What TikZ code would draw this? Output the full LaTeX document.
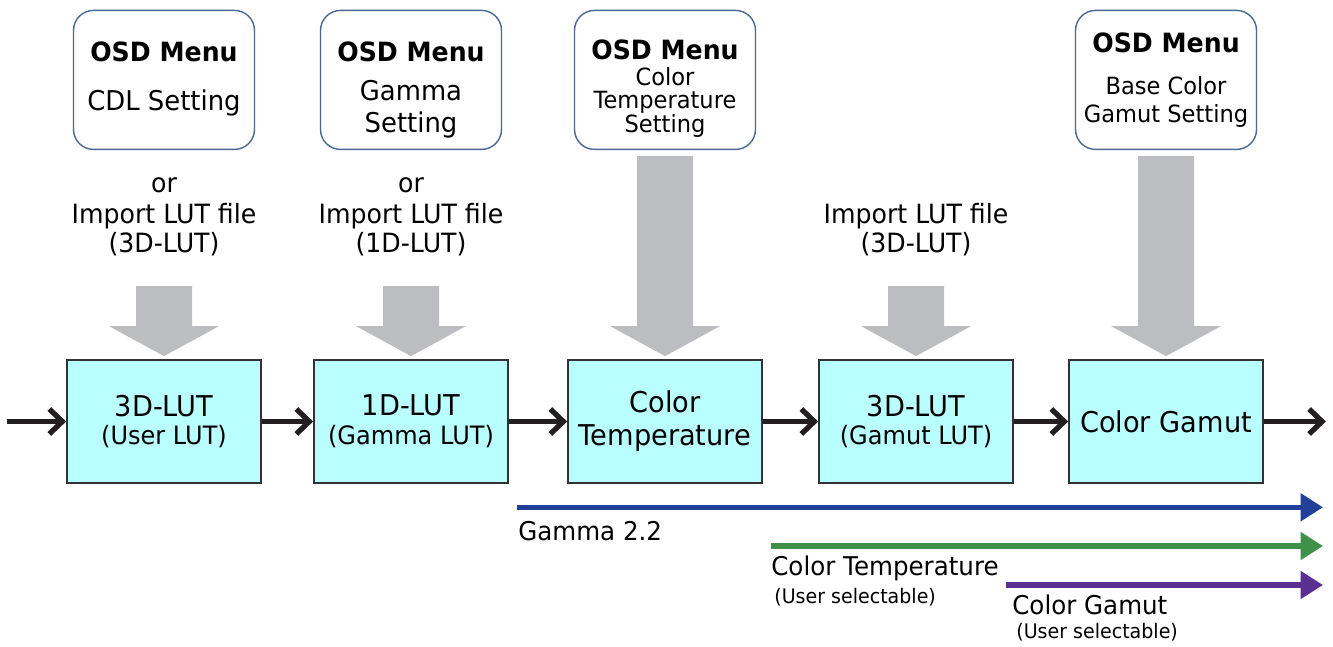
\documentclass[tikz,border=0pt]{standalone}
\usepackage{fontspec}
\setmainfont[FakeStretch=0.95]{DejaVu Sans}
\usetikzlibrary{arrows.meta, positioning, calc}

\definecolor{lutcyan}{RGB}{185,255,255}
\definecolor{lutedge}{RGB}{50,50,50}
\definecolor{menuedge}{RGB}{74,104,150}
\definecolor{feedgray}{RGB}{188,189,193}
\definecolor{flowblack}{RGB}{35,31,32}
\definecolor{gammablue}{RGB}{33,64,154}
\definecolor{tempgreen}{RGB}{64,145,72}
\definecolor{gamutpurple}{RGB}{91,46,145}

\newcommand{\osdtitle}{\bfseries\fontsize{15.1}{20}\selectfont}
\newcommand{\menubig}{\fontsize{15.5}{20}\selectfont}
\newcommand{\menusmall}{\fontsize{13.5}{20}\selectfont}
\newcommand{\lutsub}{\fontsize{14.4}{20}\selectfont}

\begin{document}
\begin{tikzpicture}[
    font=\fontsize{15.1}{20}\selectfont,
    menubox/.style={draw=menuedge, line width=0.8pt, rounded corners=0.4cm, fill=white, minimum width=3.62cm, minimum height=2.78cm},
    menutext/.style={align=center, inner sep=0pt, anchor=north},
    lutbox/.style={draw=lutedge, line width=1pt, fill=lutcyan, minimum width=3.88cm, minimum height=2.46cm, inner sep=0pt, align=center, font=\fontsize{16.3}{20}\selectfont},
    importtext/.style={align=center, inner sep=0pt},
    flowarrow/.style={-{Straight Barb[length=0.26cm, width=0.5cm]}, line width=3pt, color=flowblack},
    rangearrow/.style={-{Triangle[length=0.45cm, width=0.54cm]}, line width=3pt},
    rangelabel/.style={anchor=base west, inner sep=0pt, font=\fontsize{14.7}{20}\selectfont},
    selectlabel/.style={anchor=base west, inner sep=0pt, font=\fontsize{11.4}{14}\selectfont}
]
\useasboundingbox (0,0) rectangle (26.66,12.92);

% === PROCESSING CHAIN ===
\node[lutbox] (lut1) at (3.28,4.49) {3D-LUT\\[-3.6pt]\lutsub (User LUT)};
\node[lutbox, right=1.025cm of lut1] (lut2) {1D-LUT\\[-3.6pt]\lutsub (Gamma LUT)};
\node[lutbox, right=1.165cm of lut2] (lut3) {Color\\[-1.3pt]Temperature};
\node[lutbox, right=1.105cm of lut3] (lut4) {3D-LUT\\[-3.6pt]\lutsub (Gamut LUT)};
\node[lutbox, right=1.085cm of lut4] (lut5) {Color Gamut};

\coordinate (src) at ([xshift=-1.18cm]lut1.west);
\coordinate (sink) at ([xshift=1.24cm]lut5.east);
\draw[flowarrow] (src) -- (lut1);
\foreach \a/\b in {lut1/lut2, lut2/lut3, lut3/lut4, lut4/lut5} {
    \draw[flowarrow] (\a) -- (\b);
}
\draw[flowarrow] (lut5) -- (sink);

% === OSD MENUS ===
\node[menubox, above=4.18cm of lut1] (menu1) {};
\node[menubox, above=4.18cm of lut2] (menu2) {};
\node[menubox, above=4.18cm of lut3] (menu3) {};
\node[menubox, above=4.18cm of lut5] (menu4) {};

\node[menutext] (menu1txt) at ([yshift=-0.63cm]menu1.north) {\osdtitle OSD Menu\\[8.3pt]\menubig CDL Setting};
\node[menutext] (menu2txt) at ([yshift=-0.63cm]menu2.north) {\osdtitle OSD Menu\\[2.1pt]\menubig Gamma\\[-1.3pt]\menubig Setting};
\node[menutext] (menu3txt) at ([yshift=-0.60cm]menu3.north) {\osdtitle OSD Menu\\[-5.3pt]\menusmall Color\\[-7pt]\menusmall Temperature\\[-6.4pt]\menusmall Setting};
\node[menutext] (menu4txt) at ([yshift=-0.46cm]menu4.north) {\osdtitle OSD Menu\\[3.8pt]\menusmall Base Color\\[-4.1pt]\menusmall Gamut Setting};

% === FEED ARROWS ===
\coordinate (g1) at ([yshift=1.46cm]lut1.north);
\coordinate (g2) at ([yshift=1.46cm]lut2.north);
\coordinate (g3) at ([yshift=-0.12cm]menu3.south);
\coordinate (g4) at ([yshift=1.46cm]lut4.north);
\coordinate (g5) at ([yshift=-0.12cm]menu4.south);

\node[importtext, above=0.6cm of g1] (imp1) {or\\[-2.4pt]Import LUT file\\[-3.6pt](3D-LUT)};
\node[importtext, above=0.6cm of g2] (imp2) {or\\[-2.4pt]Import LUT file\\[-3.6pt](1D-LUT)};
\node[importtext, above=0.6cm of g4] (imp4) {Import LUT file\\[-3.6pt](3D-LUT)};

\foreach \s/\e in {g1/lut1, g2/lut2, g3/lut3, g4/lut4, g5/lut5} {
    \coordinate (tip) at ([yshift=0.06cm]\e.north);
    \fill[feedgray] ($(\s)+(-0.56,0)$) -- ($(\s)+(0.56,0)$) -- ($(tip)+(0.56,0.6)$) -- ($(tip)+(1.1,0.6)$)
        -- (tip) -- ($(tip)+(-1.1,0.6)$) -- ($(tip)+(-0.56,0.6)$) -- cycle;
}

% === RANGES ===
\coordinate (gammaS) at (10.34,2.774);
\coordinate (gammaE) at (26.46,2.774);
\coordinate (tempS) at (15.42,2.0);
\coordinate (tempE) at (26.46,2.0);
\coordinate (gamutS) at (20.12,1.22);
\coordinate (gamutE) at (26.46,1.22);
\draw[rangearrow, gammablue] (gammaS) -- (gammaE);
\draw[rangearrow, tempgreen] (tempS) -- (tempE);
\draw[rangearrow, gamutpurple] (gamutS) -- (gamutE);

\node[rangelabel] (gammalbl) at (10.36,2.12) {Gamma 2.2};
\node[rangelabel] (templbl) at (15.42,1.42) {Color Temperature};
\node[selectlabel] (tempsel) at (15.48,0.86) {(User selectable)};
\node[rangelabel] (gamutlbl) at (20.24,0.64) {Color Gamut};
\node[selectlabel] (gamutsel) at (20.32,0.16) {(User selectable)};

\end{tikzpicture}
\end{document}
